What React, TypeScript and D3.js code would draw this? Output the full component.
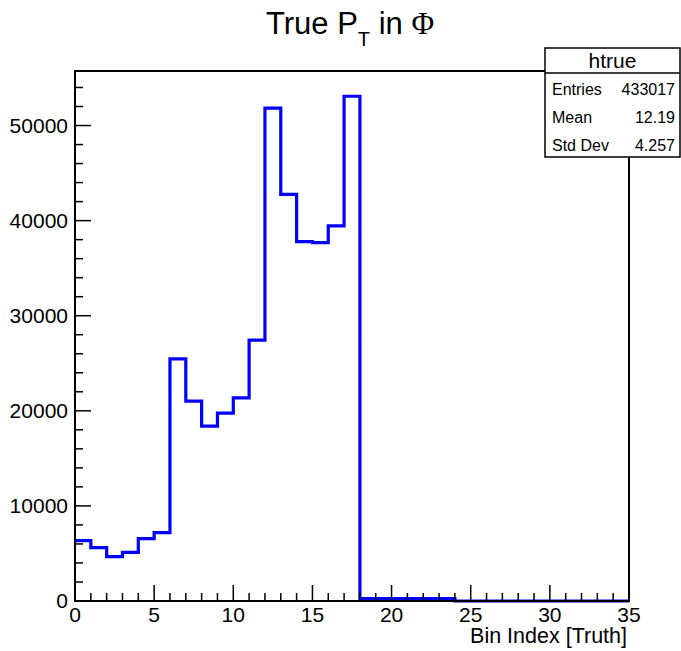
import React from "react";
import * as d3 from "d3";

const binCounts: number[] = [
  6350, 5610, 4670, 5120, 6560, 7190, 25470, 21020, 18390, 19750, 21370, 27440,
  51820, 42770, 37790, 37680, 39440, 53080, 250, 250, 250, 250, 250, 250,
  0, 0, 0, 0, 0, 0, 0, 0, 0, 0, 0,
];
const xMajorTicks: number[] = [0, 5, 10, 15, 20, 25, 30, 35];
const yMajorTicks: number[] = [0, 10000, 20000, 30000, 40000, 50000];
const statLabels: string[] = ["Entries", "Mean", "Std Dev"];
const statValues: string[] = ["433017", "12.19", "4.257"];
const histName = "htrue";
const xTitle = "Bin Index [Truth]";

const W = 681;
const H = 651;
const FONT = "'Liberation Sans', Arial, Helvetica, sans-serif";

export default function App() {
  const left = 75, right = 629, top = 71, bottom = 601;
  const nBins = binCounts.length;
  const yMax = (d3.max(binCounts) as number) * 1.05;
  const x = d3.scaleLinear().domain([0, nBins]).range([left, right]);
  const y = d3.scaleLinear().domain([0, yMax]).range([bottom, top]);

  const pts: [number, number][] = [];
  binCounts.forEach((v, i) => {
    pts.push([i, v]);
    pts.push([i + 1, v]);
  });
  const line = d3
    .line<[number, number]>()
    .x((d) => x(d[0]))
    .y((d) => y(d[1]));
  const pathD = line(pts) || "";

  const xMinor = d3.range(0, nBins + 1, 1).filter((v) => v % 5 !== 0);
  const yMinor = d3.range(0, yMax, 2000).filter((v) => v % 10000 !== 0);

  const sbL = 545, sbR = 680, sbT = 48, sbHead = 73, sbB = 157;
  const rowBase = [95, 123, 151];

  return (
    <svg
      width={W}
      height={H}
      style={{ position: "absolute", left: 0, top: 0, background: "#fff" }}
      fontFamily={FONT}
    >
      <rect x={0} y={0} width={W} height={H} fill="#fff" />
      {/* title */}
      <text x={350} y={34} textAnchor="middle" fontSize={31} fill="#000">
        True P
        <tspan fontSize={20} dy={12}>T</tspan>
        <tspan dy={-12}> in </tspan>
        <tspan fontFamily="'Liberation Serif', 'DejaVu Serif', serif">Φ</tspan>
      </text>

      {/* histogram */}
      <path d={pathD} fill="none" stroke="#0000ff" strokeWidth={3.2} />

      {/* frame */}
      <rect
        x={left}
        y={top}
        width={right - left}
        height={bottom - top}
        fill="none"
        stroke="#000"
        strokeWidth={2}
      />

      {/* x ticks */}
      {xMajorTicks.map((t) => (
        <g key={"xM" + t}>
          <line x1={x(t)} x2={x(t)} y1={bottom} y2={bottom - 16} stroke="#000" strokeWidth={1.5} />
          <text x={x(t)} y={622} textAnchor="middle" fontSize={21} fill="#000">
            {t}
          </text>
        </g>
      ))}
      {xMinor.map((t) => (
        <line key={"xm" + t} x1={x(t)} x2={x(t)} y1={bottom} y2={bottom - 8} stroke="#000" strokeWidth={1.5} />
      ))}
      <text x={627} y={643} textAnchor="end" fontSize={21.5} fill="#000">
        {xTitle}
      </text>

      {/* y ticks */}
      {yMajorTicks.map((t) => (
        <g key={"yM" + t}>
          <line x1={left} x2={left + 16} y1={y(t)} y2={y(t)} stroke="#000" strokeWidth={1.5} />
          <text x={68} y={y(t) + 7} textAnchor="end" fontSize={21} fill="#000">
            {t}
          </text>
        </g>
      ))}
      {yMinor.map((t) => (
        <line key={"ym" + t} x1={left} x2={left + 8} y1={y(t)} y2={y(t)} stroke="#000" strokeWidth={1.5} />
      ))}

      {/* stats box */}
      <rect x={sbL} y={sbT} width={sbR - sbL} height={sbB - sbT} fill="#fff" stroke="#000" strokeWidth={1.5} />
      <line x1={sbL} x2={sbR} y1={sbHead} y2={sbHead} stroke="#000" strokeWidth={1.5} />
      <text x={(sbL + sbR) / 2} y={68} textAnchor="middle" fontSize={21} fill="#000">
        {histName}
      </text>
      {statLabels.map((lab, i) => (
        <g key={lab}>
          <text x={552} y={rowBase[i]} fontSize={16} fill="#000">
            {lab}
          </text>
          <text x={675} y={rowBase[i]} textAnchor="end" fontSize={16} fill="#000">
            {statValues[i]}
          </text>
        </g>
      ))}
    </svg>
  );
}
